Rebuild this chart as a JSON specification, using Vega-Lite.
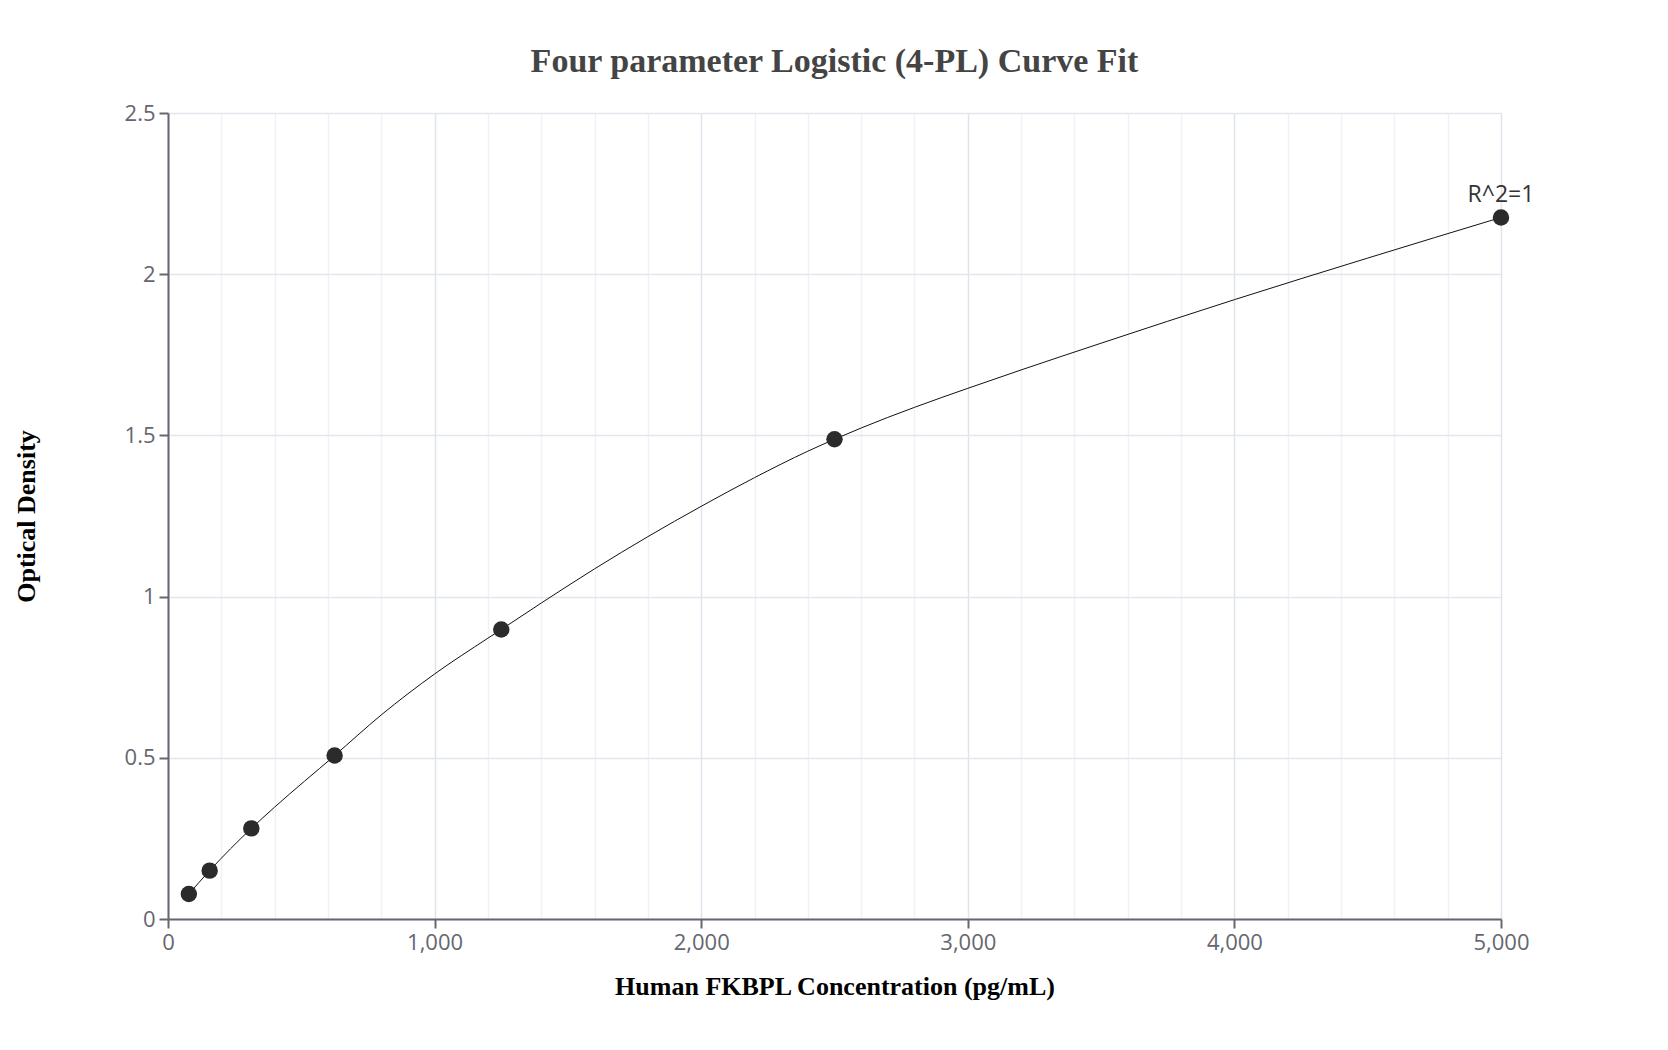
{
  "$schema": "https://vega.github.io/schema/vega-lite/v6.json",
  "width": 1333,
  "height": 806,
  "autosize": {"type": "none"},
  "padding": {"left": 168, "top": 113, "right": 167, "bottom": 131},
  "background": "white",
  "title": {
    "text": "Four parameter Logistic (4-PL) Curve Fit",
    "font": "Liberation Serif",
    "fontSize": 34,
    "fontWeight": "bold",
    "color": "#444444",
    "anchor": "middle",
    "offset": 23
  },
  "config": {
    "view": {"stroke": null},
    "axis": {
      "labelFont": "Open Sans",
      "labelFontSize": 22,
      "labelColor": "#666670",
      "domainColor": "#666670",
      "domainWidth": 2,
      "tickColor": "#666670",
      "tickWidth": 2,
      "tickSize": 9,
      "titleFont": "Liberation Serif",
      "titleFontSize": 26,
      "titleFontWeight": "bold",
      "titleColor": "#000000"
    }
  },
  "datasets": {
    "points": [
      {"conc": 78.125, "od": 0.0775},
      {"conc": 156.25, "od": 0.150},
      {"conc": 312.5, "od": 0.281},
      {"conc": 625, "od": 0.507},
      {"conc": 1250, "od": 0.898},
      {"conc": 2500, "od": 1.488},
      {"conc": 5000, "od": 2.176}
    ],
    "curve": [
      {"conc": 78.125, "od": 0.0775},
      {"conc": 156.25, "od": 0.150},
      {"conc": 312.5, "od": 0.281},
      {"conc": 400, "od": 0.347},
      {"conc": 625, "od": 0.507},
      {"conc": 800, "od": 0.633},
      {"conc": 1000, "od": 0.760},
      {"conc": 1200, "od": 0.871},
      {"conc": 1250, "od": 0.898},
      {"conc": 1400, "od": 0.980},
      {"conc": 1600, "od": 1.086},
      {"conc": 1800, "od": 1.186},
      {"conc": 2000, "od": 1.280},
      {"conc": 2200, "od": 1.369},
      {"conc": 2400, "od": 1.451},
      {"conc": 2500, "od": 1.488},
      {"conc": 2600, "od": 1.523},
      {"conc": 2800, "od": 1.587},
      {"conc": 3000, "od": 1.646},
      {"conc": 3200, "od": 1.703},
      {"conc": 3500, "od": 1.786},
      {"conc": 4000, "od": 1.921},
      {"conc": 4500, "od": 2.050},
      {"conc": 5000, "od": 2.176}
    ],
    "label": [
      {"conc": 5000, "od": 2.176, "text": "R^2=1"}
    ]
  },
  "encoding": {
    "x": {
      "field": "conc",
      "type": "quantitative",
      "scale": {"domain": [0, 5000], "nice": false, "zero": false},
      "axis": {
        "title": "Human FKBPL Concentration (pg/mL)",
        "values": [0, 200, 400, 600, 800, 1000, 1200, 1400, 1600, 1800, 2000, 2200, 2400, 2600, 2800, 3000, 3200, 3400, 3600, 3800, 4000, 4200, 4400, 4600, 4800, 5000],
        "labelExpr": "datum.value % 1000 === 0 ? format(datum.value, ',d') : ''",
        "labelFlush": false,
        "tickOpacity": {"condition": {"test": "datum.value % 1000 === 0", "value": 1}, "value": 0},
        "grid": true,
        "gridColor": {"condition": {"test": "datum.value % 1000 === 0", "value": "#dfe3ec"}, "value": "#eef1f6"},
        "gridWidth": 1.5,
        "labelPadding": 4,
        "titlePadding": 20
      }
    },
    "y": {
      "field": "od",
      "type": "quantitative",
      "scale": {"domain": [0, 2.5], "nice": false},
      "axis": {
        "title": "Optical Density",
        "values": [0, 0.5, 1, 1.5, 2, 2.5],
        "format": ".1~f",
        "labelFlush": false,
        "grid": true,
        "gridColor": "#e2e6ee",
        "gridWidth": 1.5,
        "labelPadding": 4,
        "titleX": -134,
        "titleBaseline": "alphabetic"
      }
    }
  },
  "layer": [
    {
      "data": {"name": "curve"},
      "mark": {"type": "line", "color": "#111111", "strokeWidth": 1, "interpolate": "monotone"}
    },
    {
      "data": {"name": "points"},
      "mark": {"type": "circle", "size": 270, "color": "#2b2b2b", "opacity": 1}
    },
    {
      "data": {"name": "label"},
      "mark": {"type": "text", "font": "Open Sans", "fontSize": 23, "color": "#333333", "baseline": "alphabetic", "dy": -15},
      "encoding": {"text": {"field": "text"}}
    }
  ]
}
